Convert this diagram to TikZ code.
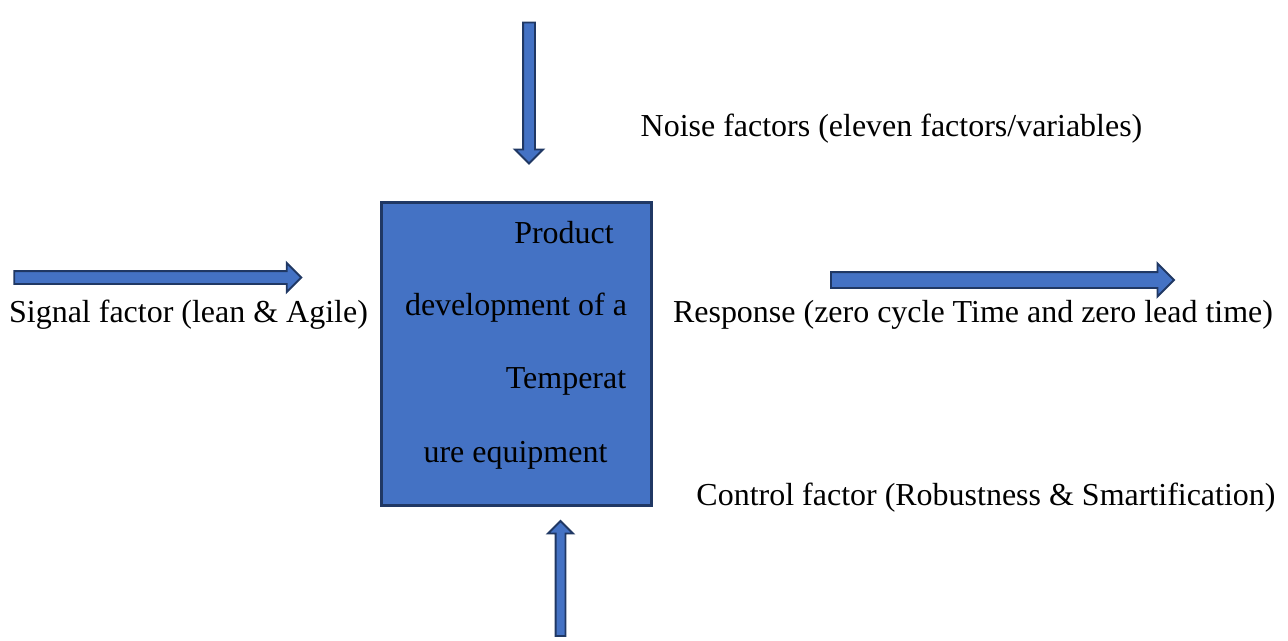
\documentclass[tikz,border=0pt]{standalone}
\usepackage{fontspec}
\setmainfont{Liberation Serif}
\newfontfamily\timesface{Liberation Serif}
\usetikzlibrary{shapes.arrows}
\definecolor{boxblue}{HTML}{4472C4}
\definecolor{edgeblue}{HTML}{203864}

\begin{document}
\begin{tikzpicture}[x=0.02cm, y=-0.02cm,
		blockarrow/.style 2 args={single arrow, draw=edgeblue, fill=boxblue, line width=1.1pt, inner xsep=0pt, inner ysep=#1, single arrow head extend=#2},
		lbl/.style={anchor=base, inner sep=0pt, font=\timesface\fontsize{18.2}{22}\selectfont}]
	\useasboundingbox (0,0) rectangle (1288,640);

	% the system box
	\node[draw=edgeblue, fill=boxblue, line width=1.6pt, minimum width=5.40cm, minimum height=6.06cm, inner sep=0pt] (sys) at (516.5,354) {};
	\foreach \n/\x/\y/\t in {p1/564/243/Product, p2/516/315/development of a, p3/566/388/Temperat, p4/515.5/462/ure equipment}
		\node[lbl] (\n) at (\x,\y) {\t};

	% block arrows
	\node[blockarrow={0.10cm}{0.16cm}, minimum height=2.82cm, rotate=-90] (noisearrow) at (529,90) {};
	\node[blockarrow={0.11cm}{0.16cm}, minimum height=5.74cm] (signalarrow) at (154.5,277.5) {};
	\node[blockarrow={0.14cm}{0.17cm}, minimum height=6.86cm] (responsearrow) at (998.5,280) {};
	\node[blockarrow={0.08cm}{0.15cm}, minimum height=2.30cm, rotate=90] (controlarrow) at (560.5,581) {};

	% labels
	\node[lbl] (noise) at (891.5,136) {Noise factors (eleven factors/variables)};
	\node[lbl] (signal) at (188.5,322) {Signal factor (lean \& Agile)};
	\node[lbl] (response) at (973,322) {Response (zero cycle Time and zero lead time)};
	\node[lbl] (control) at (986,505) {Control factor (Robustness \& Smartification)};
\end{tikzpicture}
\end{document}
